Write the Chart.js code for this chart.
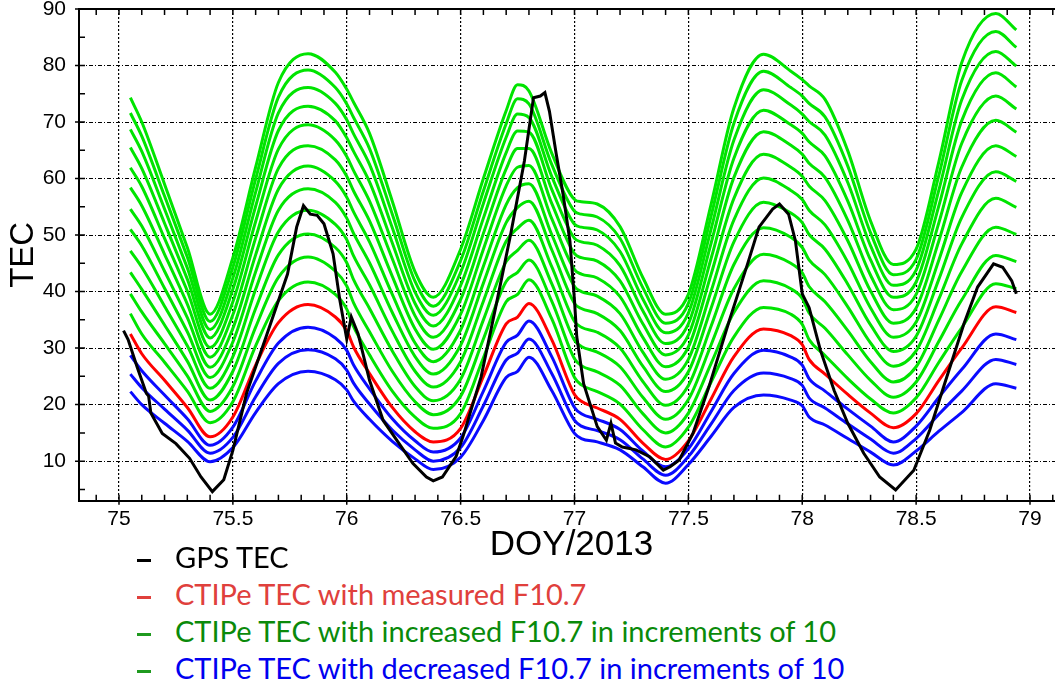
<!DOCTYPE html>
<html lang="en">
<head>
<meta charset="UTF-8">
<title>GPS TEC vs CTIPe TEC, DOY 75-79 2013</title>
<script src="https://cdn.jsdelivr.net/npm/chart.js"></script>
<style>
  html, body { margin: 0; padding: 0; background: #fff; overflow: hidden; }
  .wrap { position: relative; width: 1055px; height: 684px; overflow: hidden; background: #fff; }
  #tecChart { position: absolute; left: 0; top: 0; }
  .legend { position: absolute; left: 0; top: 0; font-family: Lato, 'Open Sans', sans-serif; font-size: 29px; }
  .legend .row { position: absolute; left: 137px; height: 37px; line-height: 37px; white-space: nowrap; }
  .legend .mark { display: inline-block; width: 14px; height: 3px; margin-right: 24px; vertical-align: middle; }
</style>
</head>
<body>
<div class="wrap">
  <canvas id="tecChart" width="1064" height="570"></canvas>
  <div class="legend">
    <div class="row" style="top: 538px; color: #000;"><span class="mark" style="background: #000;"></span>GPS TEC</div>
    <div class="row" style="top: 575px; color: #e0403c;"><span class="mark" style="background: #e0403c;"></span>CTIPe TEC with measured F10.7</div>
    <div class="row" style="top: 612px; color: #0a8a0a;"><span class="mark" style="background: #1f9a1f;"></span>CTIPe TEC with increased F10.7 in increments of 10</div>
    <div class="row" style="top: 649px; color: #0000f0;"><span class="mark" style="background: #1f9a1f;"></span>CTIPe TEC with decreased F10.7 in increments of 10</div>
  </div>
</div>
<script>
// x positions (day of year) shared by all CTIPe runs
const modelDoy = [75.05, 75.1, 75.2, 75.3, 75.4, 75.5, 75.6, 75.7, 75.83, 75.95, 76.0, 76.03, 76.1, 76.2, 76.3, 76.38,
  76.5, 76.6, 76.7, 76.75, 76.8, 76.9, 77.0, 77.03, 77.1, 77.2, 77.3, 77.4, 77.5, 77.6, 77.7, 77.83, 77.95, 78.0, 78.03,
  78.1, 78.2, 78.3, 78.4, 78.5, 78.6, 78.7, 78.85, 78.94];

// CTIPe with measured F10.7
const ctipeMeasured = [32.5, 29.0, 24.3, 19.5, 14.3, 17.8, 27.0, 34.5, 37.7, 35.5, 33.1, 30.2, 25.5, 19.5, 15.2, 13.4,
  15.8, 25.0, 34.3, 35.5, 37.9, 31.5, 21.8, 20.6, 19.4, 17.4, 13.2, 10.3, 13.6, 21.0, 28.5, 33.4, 32.2, 30.6, 28.0,
  25.4, 21.8, 18.5, 15.9, 18.4, 24.3, 30.0, 37.3, 36.3];

// CTIPe with F10.7 raised in steps of 10
const inc10 = [36.1, 32.5, 27.5, 22.4, 16.8, 20.5, 30.4, 38.4, 41.7, 39.5, 36.9, 33.8, 28.8, 22.4, 17.8, 15.8, 18.4, 28.3, 38.2, 39.5, 42.1, 35.2, 24.8, 23.5, 22.3, 20.1, 15.6, 12.5, 16.0, 24.0, 32.0, 37.2, 36.0, 34.2, 31.5, 28.7, 24.6, 21.0, 18.5, 21.2, 27.5, 33.6, 41.4, 40.5];
const inc20 = [39.6, 36.4, 30.8, 25.1, 18.8, 23.2, 33.7, 42.5, 46.1, 43.6, 41.0, 38.0, 32.9, 25.9, 20.5, 18.2, 21.5, 31.6, 41.8, 43.4, 45.6, 38.3, 28.1, 26.9, 25.8, 23.4, 18.4, 15.0, 18.5, 27.3, 36.3, 41.9, 40.5, 38.8, 36.2, 33.5, 28.8, 24.3, 21.3, 24.0, 31.2, 38.5, 46.4, 45.3];
const inc30 = [43.4, 40.4, 34.1, 27.7, 20.8, 25.9, 37.0, 46.5, 50.2, 47.8, 45.1, 42.1, 37.0, 29.5, 23.2, 20.7, 24.5, 35.0, 45.3, 47.3, 49.1, 41.4, 31.4, 30.3, 29.3, 26.7, 21.3, 17.4, 20.9, 30.6, 40.5, 46.6, 45.0, 43.3, 40.9, 38.2, 33.1, 27.6, 24.0, 26.7, 35.0, 43.5, 51.4, 50.1];
const inc40 = [47.2, 44.3, 37.4, 30.4, 22.9, 28.5, 40.4, 50.6, 54.4, 51.9, 49.2, 46.3, 41.2, 33.0, 25.9, 23.1, 27.6, 38.3, 48.9, 51.2, 52.6, 44.4, 34.7, 33.7, 32.8, 30.0, 24.1, 19.9, 23.4, 33.9, 44.8, 51.3, 49.6, 47.8, 45.6, 43.0, 37.3, 30.9, 26.8, 29.5, 38.7, 48.4, 56.5, 54.9];
const inc50 = [51.0, 48.1, 40.6, 32.9, 24.8, 31.1, 43.5, 54.4, 58.2, 55.8, 53.0, 50.3, 45.1, 36.3, 28.5, 25.4, 30.5, 41.5, 52.2, 54.9, 56.0, 47.4, 37.9, 37.0, 36.1, 33.1, 26.8, 22.3, 25.8, 37.1, 48.8, 55.8, 53.9, 52.2, 50.1, 47.5, 41.3, 34.1, 29.4, 32.1, 42.2, 53.1, 61.2, 59.5];
const inc60 = [54.6, 51.6, 43.6, 35.4, 26.6, 33.5, 46.5, 58.1, 62.2, 59.5, 56.7, 54.1, 48.8, 39.5, 30.9, 27.6, 33.2, 44.5, 55.4, 58.4, 59.1, 50.1, 40.9, 40.0, 39.2, 36.1, 29.3, 24.5, 28.0, 40.1, 52.7, 60.1, 57.9, 56.3, 54.4, 51.8, 45.2, 37.1, 31.9, 34.6, 45.6, 57.5, 65.8, 63.9];
const inc70 = [58.4, 55.2, 46.6, 37.8, 28.4, 35.9, 49.5, 61.8, 65.8, 63.3, 60.4, 57.8, 52.5, 42.7, 33.4, 29.8, 36.0, 47.5, 58.7, 62.0, 62.3, 52.9, 43.9, 43.1, 42.4, 39.1, 31.9, 26.7, 30.2, 43.1, 56.5, 64.3, 62.0, 60.4, 58.7, 56.1, 49.0, 40.1, 34.4, 37.1, 49.0, 62.0, 70.3, 68.2];
const inc80 = [61.9, 58.6, 49.4, 40.1, 30.1, 38.2, 52.4, 65.2, 69.5, 66.8, 63.9, 61.4, 56.0, 45.8, 35.7, 31.9, 38.6, 50.3, 61.7, 65.3, 65.3, 55.6, 46.7, 46.0, 45.4, 41.9, 34.3, 28.8, 32.3, 45.9, 60.2, 68.3, 65.9, 64.3, 62.7, 60.2, 52.6, 42.9, 36.8, 39.5, 52.2, 66.2, 74.6, 72.3];
const inc90 = [65.5, 61.8, 52.1, 42.2, 31.8, 40.4, 55.1, 68.5, 72.8, 70.2, 67.2, 64.8, 59.4, 48.6, 37.9, 33.9, 41.1, 53.0, 64.6, 68.4, 68.2, 58.1, 49.4, 48.8, 48.2, 44.6, 36.6, 30.8, 34.3, 48.6, 63.6, 72.1, 69.5, 68.0, 66.5, 64.0, 56.0, 45.6, 39.0, 41.7, 55.2, 70.2, 78.7, 76.2];
const inc100 = [68.7, 64.8, 54.6, 44.2, 33.3, 42.4, 57.6, 71.6, 76.1, 73.3, 70.4, 67.9, 62.5, 51.3, 39.9, 35.8, 43.4, 55.6, 67.3, 71.4, 70.8, 60.4, 51.9, 51.4, 50.9, 47.1, 38.7, 32.7, 36.2, 51.1, 66.8, 75.7, 73.0, 71.4, 70.1, 67.7, 59.3, 48.1, 41.1, 43.8, 58.0, 73.9, 82.5, 79.9];
const inc110 = [71.6, 67.5, 56.9, 46.1, 34.7, 44.3, 59.9, 74.4, 79.2, 76.1, 73.2, 70.8, 65.3, 53.7, 41.8, 37.4, 45.5, 57.8, 69.7, 74.1, 73.2, 62.5, 54.2, 53.7, 53.2, 49.4, 40.7, 34.4, 37.9, 53.4, 69.8, 79.0, 76.1, 74.6, 73.3, 70.9, 62.2, 50.4, 43.0, 45.7, 60.6, 77.3, 86.0, 83.2];
const inc120 = [74.3, 70.0, 59.0, 47.8, 36.0, 46.0, 62.0, 77.0, 82.1, 78.8, 75.8, 73.5, 68.0, 56.0, 43.5, 39.0, 47.5, 60.0, 72.0, 76.6, 75.5, 64.5, 56.3, 55.9, 55.5, 51.5, 42.5, 36.0, 39.5, 55.5, 72.5, 82.0, 79.0, 77.5, 76.4, 74.0, 64.9, 52.5, 44.8, 47.5, 63.0, 80.5, 89.2, 86.3];

// CTIPe with F10.7 lowered in steps of 10
const dec10 = [28.7, 26.0, 21.7, 17.5, 12.8, 16.0, 24.2, 30.9, 33.7, 31.8, 29.6, 27.0, 22.8, 17.5, 13.6, 11.6, 14.1, 22.4, 31.0, 32.3, 34.8, 28.5, 19.5, 18.4, 17.4, 15.6, 11.8, 9.0, 12.2, 18.8, 25.5, 29.6, 28.4, 27.0, 24.6, 22.4, 19.2, 16.2, 13.4, 16.2, 21.3, 26.2, 32.5, 31.5];
const dec20 = [25.4, 23.0, 19.2, 15.5, 11.4, 14.2, 21.4, 27.3, 29.7, 28.1, 26.1, 23.8, 20.1, 15.5, 12.0, 10.0, 12.4, 19.8, 27.9, 29.1, 31.6, 25.5, 17.2, 16.2, 15.4, 13.8, 10.4, 7.5, 10.8, 16.6, 22.5, 25.6, 24.6, 23.4, 21.2, 19.4, 16.6, 13.9, 11.4, 14.0, 18.3, 22.4, 28.0, 27.1];
const dec30 = [22.3, 20.0, 16.7, 13.5, 9.9, 12.4, 18.6, 23.7, 25.9, 24.4, 22.6, 20.6, 17.4, 13.5, 10.4, 8.5, 10.7, 17.2, 24.8, 25.9, 28.4, 22.5, 14.9, 14.0, 13.4, 12.0, 9.0, 6.1, 9.4, 14.4, 19.5, 21.7, 20.8, 19.8, 17.8, 16.4, 14.0, 11.6, 9.3, 11.8, 15.3, 18.6, 23.7, 22.9];

// GPS TEC (measured)
const gpsDoy = [75.02, 75.04, 75.08, 75.12, 75.13, 75.14, 75.19, 75.25, 75.31, 75.36, 75.41, 75.46, 75.5, 75.56, 75.65,
  75.74, 75.78, 75.81, 75.84, 75.87, 75.9, 75.94, 75.97, 76.0, 76.02, 76.05, 76.1, 76.16, 76.23, 76.29, 76.35, 76.38,
  76.42, 76.48, 76.51, 76.59, 76.66, 76.72, 76.78, 76.82, 76.85, 76.87, 76.89, 76.92, 76.95, 76.98, 77.0, 77.01, 77.04,
  77.1, 77.14, 77.16, 77.18, 77.21, 77.27, 77.33, 77.39, 77.42, 77.46, 77.52, 77.59, 77.68, 77.76, 77.81, 77.87, 77.9,
  77.94, 77.97, 78.0, 78.03, 78.08, 78.14, 78.2, 78.27, 78.34, 78.41, 78.49, 78.56, 78.63, 78.71, 78.77, 78.84, 78.88,
  78.92, 78.94];
const gpsTec = [33.1, 31.5, 26.6, 22.0, 21.5, 18.5, 14.9, 13.1, 10.5, 7.2, 4.6, 6.7, 11.9, 22.0, 32.5,
  43.1, 51.4, 55.2, 53.7, 53.5, 52.0, 46.7, 38.4, 31.6, 35.5, 32.5, 24.3, 17.2, 13.1, 9.6, 7.2, 6.5,
  7.2, 10.8, 14.3, 24.9, 38.4, 50.2, 63.1, 74.3, 74.6, 75.2, 71.9, 64.3, 57.2, 48.9, 38.4, 32.0, 23.7,
  16.1, 13.7, 16.7, 13.2, 12.5, 12.0, 10.8, 8.4, 9.0, 10.2, 14.9, 23.1, 34.9, 44.9, 51.4, 54.6, 55.5,
  53.7, 49.0, 39.6, 37.2, 29.6, 22.5, 16.7, 11.4, 7.2, 4.9, 8.4, 15.5, 24.3, 34.3, 40.8, 44.9, 44.3,
  41.9, 39.6];

const xTickValues = [75, 75.5, 76, 76.5, 77, 77.5, 78, 78.5, 79];
const yTickValues = [10, 20, 30, 40, 50, 60, 70, 80, 90];

const GREEN = '#00e400';
const BLUE = '#0a0aff';
const RED = '#ff0000';
const AXIS_FONT = "'Liberation Sans', Arial, Helvetica, sans-serif";

function pts(xs, ys) {
  return ys.map((v, i) => ({ x: xs[i], y: v }));
}

function modelLine(values, color) {
  return {
    data: pts(modelDoy, values),
    borderColor: color,
    borderWidth: 3,
    pointRadius: 0,
    cubicInterpolationMode: 'monotone',
    fill: false
  };
}

const greens = [inc10, inc20, inc30, inc40, inc50, inc60, inc70, inc80, inc90, inc100, inc110, inc120];
const blues = [dec10, dec20, dec30];

const datasets = [
  { data: pts(gpsDoy, gpsTec), borderColor: '#000', borderWidth: 3, pointRadius: 0, tension: 0, fill: false },
  modelLine(ctipeMeasured, RED),
  ...blues.map(b => modelLine(b, BLUE)),
  ...greens.map(g => modelLine(g, GREEN))
];

// inward minor ticks on the frame, plus the top edge of the box
const frameTicks = {
  id: 'frameTicks',
  afterDraw(chart) {
    const { ctx, chartArea: a, scales: { x, y } } = chart;
    ctx.save();
    ctx.strokeStyle = '#000';
    ctx.lineWidth = 1.5;
    ctx.beginPath();
    for (let i = 749; i <= 791; i++) {
      const px = x.getPixelForValue(i / 10);
      if (px < a.left || px > a.right) continue;
      const major = i % 5 === 0;
      ctx.moveTo(px, a.bottom + (major ? 4 : 0));
      ctx.lineTo(px, a.bottom - 6);
      ctx.moveTo(px, a.top);
      ctx.lineTo(px, a.top + 6);
    }
    for (let v = 5; v <= 90; v += 5) {
      const py = y.getPixelForValue(v);
      const major = v % 10 === 0;
      ctx.moveTo(a.left - (major ? 4 : 0), py);
      ctx.lineTo(a.left + 6, py);
    }
    ctx.stroke();
    ctx.lineWidth = 2;
    ctx.beginPath();
    ctx.moveTo(a.left, a.top);
    ctx.lineTo(a.right, a.top);
    ctx.stroke();
    ctx.restore();
  }
};

new Chart(document.getElementById('tecChart'), {
  type: 'line',
  data: { datasets },
  options: {
    responsive: false,
    animation: false,
    layout: { padding: { left: 0, right: 0, top: 9, bottom: 4 } },
    plugins: { legend: { display: false }, tooltip: { enabled: false } },
    scales: {
      x: {
        type: 'linear',
        min: 74.8244,
        max: 79.1493,
        afterBuildTicks: s => { s.ticks = xTickValues.map(v => ({ value: v })); },
        afterFit: s => { s.height = 65.3; s.paddingLeft = 0; s.paddingRight = 0; },
        ticks: { callback: v => String(v), color: '#000', font: { family: AXIS_FONT, size: 21 }, padding: 6, maxRotation: 0, autoSkip: false },
        grid: { color: '#000', lineWidth: 1.2, drawTicks: false },
        border: { color: '#000', width: 2, dash: [2, 2] },
        title: { display: true, text: 'DOY/2013', color: '#000', font: { family: AXIS_FONT, size: 35 }, padding: { top: 0, bottom: 0 } }
      },
      y: {
        type: 'linear',
        min: 3,
        max: 90,
        afterBuildTicks: s => { s.ticks = yTickValues.map(v => ({ value: v })); },
        afterFit: s => { s.width = 79; s.paddingTop = 0; s.paddingBottom = 0; },
        ticks: { color: '#000', font: { family: AXIS_FONT, size: 21 }, padding: 13 },
        grid: { color: '#000', lineWidth: 1, drawTicks: false },
        border: { color: '#000', width: 2, dash: [4, 2, 1, 2] },
        title: { display: true, text: 'TEC', color: '#000', font: { family: AXIS_FONT, size: 33, lineHeight: 1 }, padding: { top: 7, bottom: 0 } }
      }
    }
  },
  plugins: [frameTicks]
});
</script>
</body>
</html>
